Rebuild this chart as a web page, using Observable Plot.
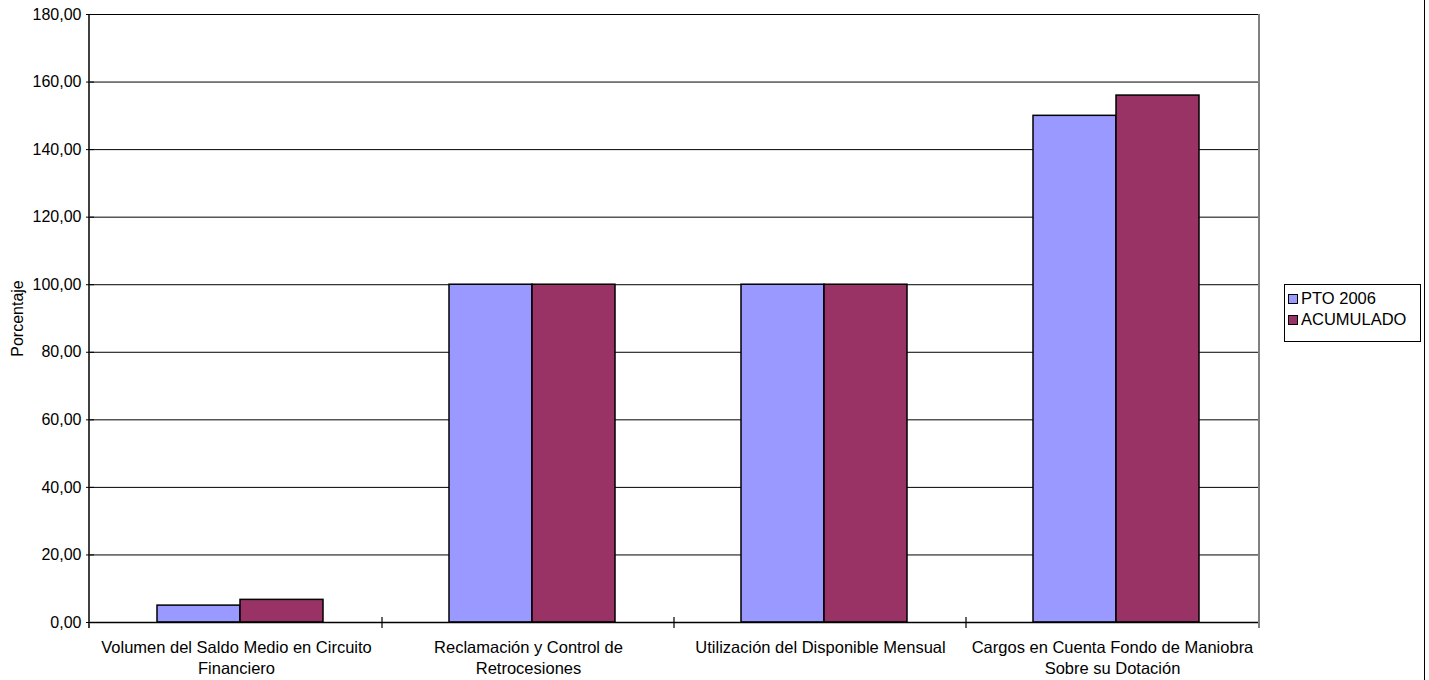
<!DOCTYPE html>
<html>
<head>
<meta charset="utf-8">
<script src="https://cdn.jsdelivr.net/npm/d3@7"></script>
<script src="https://cdn.jsdelivr.net/npm/@observablehq/plot@0.6"></script>
<style>
  html, body { margin: 0; padding: 0; background: white; }
  #wrap { position: relative; width: 1429px; height: 680px; font-family: "Liberation Sans", Arial, sans-serif; }
  #legend { position: absolute; left: 1284px; top: 284px; width: 137px; height: 58px; border: 1px solid black; background: white; padding: 3px 0 0 3px; box-sizing: border-box; font-size: 16.5px; }
  #legend .item { display: flex; align-items: center; height: 21px; }
  #legend .sw { width: 8px; height: 8px; border: 1px solid black; margin-right: 3px; }
  #outer { position: absolute; left: 1424px; top: 0; width: 0; height: 680px; border-left: 1.5px solid black; }
</style>
</head>
<body>
<div id="wrap">
  <div id="chart"></div>
  <div id="legend"></div>
  <div id="outer"></div>
</div>
<script>
const categories = [
  "Volumen del Saldo Medio en Circuito Financiero",
  "Reclamación y Control de Retrocesiones",
  "Utilización del Disponible Mensual",
  "Cargos en Cuenta Fondo de Maniobra Sobre su Dotación"
];
const categoryLabels = [
  "Volumen del Saldo Medio en Circuito\nFinanciero",
  "Reclamación y Control de\nRetrocesiones",
  "Utilización del Disponible Mensual",
  "Cargos en Cuenta Fondo de Maniobra\nSobre su Dotación"
];
const series = ["PTO 2006", "ACUMULADO"];
const pto2006 = [5, 100, 100, 150];
const acumulado = [6.7, 100, 100, 156];
const yTicks = [0, 20, 40, 60, 80, 100, 120, 140, 160, 180];
const colors = ["#9999FF", "#993366"];

const table = [];
categories.forEach((c, i) => {
  table.push({category: c, series: series[0], value: pto2006[i]});
  table.push({category: c, series: series[1], value: acumulado[i]});
});

const fmt = d3.formatLocale({decimal: ",", thousands: ".", grouping: [3], currency: ["", "€"]}).format(".2f");

const plot = Plot.plot({
  width: 1429,
  height: 680,
  marginLeft: 89,
  marginRight: 170,
  marginTop: 14,
  marginBottom: 58,
  style: {fontFamily: "'Liberation Sans', Arial, sans-serif", fontSize: "16px", color: "black", background: "white", overflow: "visible"},
  fx: {domain: categories, padding: 0},
  x: {domain: series, paddingInner: 0, paddingOuter: 0.75, align: 0.53, axis: null},
  y: {domain: [0, 180]},
  color: {domain: series, range: colors},
  marks: [
    Plot.gridY(yTicks, {stroke: "black", strokeOpacity: 1, strokeWidth: 1}),
    Plot.barY(table, {fx: "category", x: "series", y: "value", fill: "series", stroke: "black", strokeWidth: 1.5}),
    Plot.ruleY([0], {stroke: "black", strokeWidth: 1.5}),
    Plot.axisY({ticks: yTicks, tickFormat: fmt, tickSize: 8, dx: 4, tickPadding: 5, label: "Porcentaje", labelAnchor: "center", labelArrow: "none", labelOffset: 79, fontSize: 16}),
    Plot.axisFx({anchor: "bottom", tickSize: 0, tickPadding: 16, label: null, lineHeight: 1.25, fontSize: 16.5,
      tickFormat: d => categoryLabels[categories.indexOf(d)]})
  ]
});

document.getElementById("chart").appendChild(plot);

// Decorations derived from the plot's own scales
const fx = plot.scale("fx");
const y = plot.scale("y");
const svg = d3.select(plot);
const x0 = fx.range[0], x1 = fx.range[1];
const y0 = y.apply(0), yTop = y.apply(180);
const g = svg.append("g");
// y axis line
g.append("line").attr("x1", x0).attr("x2", x0).attr("y1", yTop).attr("y2", y0 + 6).attr("stroke", "black").attr("stroke-width", 1.5);
// right border of plot area
g.append("line").attr("x1", x1).attr("x2", x1).attr("y1", yTop).attr("y2", y0 + 6).attr("stroke", "#808080").attr("stroke-width", 2);
// category boundary ticks
const bounds = categories.map(c => fx.apply(c)).concat([fx.apply(categories[categories.length - 1]) + fx.bandwidth]);
bounds.slice(1, -1).forEach(b => {
  g.append("line").attr("x1", b).attr("x2", b).attr("y1", y0 - 5).attr("y2", y0 + 6).attr("stroke", "black").attr("stroke-width", 1.2);
});

// legend
const legend = d3.select("#legend");
series.forEach((s, i) => {
  const it = legend.append("div").attr("class", "item");
  it.append("div").attr("class", "sw").style("background", colors[i]);
  it.append("span").text(s);
});
</script>
</body>
</html>
